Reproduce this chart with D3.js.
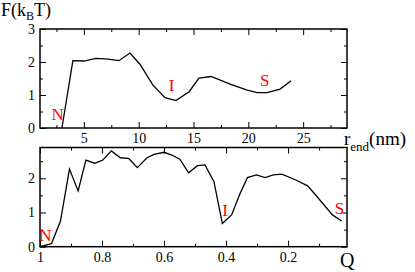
<!DOCTYPE html>
<meta charset="utf-8">
<style>
  body { margin: 0; background: #fff; }
  svg text { font-family: "Liberation Serif", "Times New Roman", Times, serif; }
</style>
<script src="https://d3js.org/d3.v7.min.js"></script>
<div id="chart"></div>
<script>
  // top panel: free energy vs end-to-end distance
  var rEnd = [3, 4, 5, 6.1, 7.2, 8.2, 9.2, 10.1, 11.3, 12.4, 13.4, 14.6, 15.5, 16.6, 18.4, 19.9, 20.8, 21.7, 22.9, 23.9];
  var fTop = [0, 2.04, 2.03, 2.11, 2.09, 2.04, 2.27, 1.94, 1.30, 0.92, 0.83, 1.10, 1.51, 1.56, 1.32, 1.15, 1.07, 1.07, 1.18, 1.43];

  // bottom panel: free energy vs Q
  var qVals = [1, 0.963, 0.934, 0.905, 0.877, 0.852, 0.824, 0.798, 0.77, 0.741, 0.714, 0.686, 0.655, 0.632, 0.6, 0.575, 0.549, 0.521, 0.492, 0.468, 0.439, 0.412, 0.382, 0.356, 0.331, 0.302, 0.274, 0.248, 0.22, 0.175, 0.137, 0.111, 0.057, 0.027];
  var fBot = [0, 0.09, 0.75, 2.27, 1.63, 2.53, 2.44, 2.53, 2.80, 2.60, 2.58, 2.31, 2.60, 2.70, 2.76, 2.68, 2.56, 2.16, 2.37, 2.39, 1.90, 0.68, 0.93, 1.53, 2.02, 2.10, 2.02, 2.10, 2.12, 1.95, 1.78, 1.51, 0.93, 0.75];

  var topTicksX = [5, 10, 15, 20, 25];
  var topMinorX = [2.5, 7.5, 12.5, 17.5, 22.5, 27.5];
  var topTicksY = [0, 1, 2, 3];
  var topMinorY = [0.5, 1.5, 2.5];
  var botTicksX = [1, 0.8, 0.6, 0.4, 0.2];
  var botMinorX = [0.9, 0.7, 0.5, 0.3, 0.1];
  var botTicksY = [0, 1, 2];
  var botMinorY = [0.5, 1.5, 2.5];

  var serif = "'Liberation Serif', 'Times New Roman', serif";
  var width = 415, height = 272;
  var svg = d3.select("#chart").append("svg")
    .attr("width", width)
    .attr("height", height)
    .attr("font-family", serif);

  var left = 40, right = 347;

  function panel(x, y, xt, xm, yt, ym, xfmt) {
    var g = svg.append("g");
    var y0 = y.range()[0], y1 = y.range()[1];

    // bottom axis with labels
    g.append("g").attr("transform", "translate(0," + y0 + ")")
      .call(d3.axisBottom(x).tickValues(xt).tickSize(-6).tickPadding(5).tickFormat(xfmt));
    g.append("g").attr("transform", "translate(0," + y0 + ")")
      .call(d3.axisBottom(x).tickValues(xm).tickSize(-3).tickFormat(""));
    // top mirror
    g.append("g").attr("transform", "translate(0," + y1 + ")")
      .call(d3.axisTop(x).tickValues(xt).tickSize(-6).tickFormat(""));
    g.append("g").attr("transform", "translate(0," + y1 + ")")
      .call(d3.axisTop(x).tickValues(xm).tickSize(-3).tickFormat(""));
    // left axis
    g.append("g").attr("transform", "translate(" + left + ",0)")
      .call(d3.axisLeft(y).tickValues(yt).tickSize(-6).tickPadding(5).tickFormat(d3.format("d")));
    g.append("g").attr("transform", "translate(" + left + ",0)")
      .call(d3.axisLeft(y).tickValues(ym).tickSize(-3).tickFormat(""));
    // right mirror
    g.append("g").attr("transform", "translate(" + right + ",0)")
      .call(d3.axisRight(y).tickValues(yt).tickSize(-6).tickFormat(""));
    g.append("g").attr("transform", "translate(" + right + ",0)")
      .call(d3.axisRight(y).tickValues(ym).tickSize(-3).tickFormat(""));

    g.selectAll(".domain").remove();
    g.selectAll("g").attr("font-family", serif);
    g.selectAll(".tick line").attr("stroke", "#000").attr("stroke-width", 1);
    g.selectAll(".tick text").attr("font-size", 14).attr("fill", "#000");

    g.append("rect")
      .attr("x", left).attr("y", y1)
      .attr("width", right - left).attr("height", y0 - y1)
      .attr("fill", "none").attr("stroke", "#000").attr("stroke-width", 1.5);
    return g;
  }

  // top panel
  var xTop = d3.scaleLinear().domain([1, 29]).range([left, right]);
  var yTop = d3.scaleLinear().domain([0, 3]).range([128, 29]);
  var gTop = panel(xTop, yTop, topTicksX, topMinorX, topTicksY, topMinorY, d3.format("d"));

  var line1 = d3.line()
    .x(function (d, i) { return xTop(rEnd[i]); })
    .y(function (d) { return yTop(d); });
  gTop.append("path").datum(fTop)
    .attr("d", line1).attr("fill", "none")
    .attr("stroke", "#000").attr("stroke-width", 1.3);

  // bottom panel
  var xBot = d3.scaleLinear().domain([1, 0.01]).range([left, right]);
  var yBot = d3.scaleLinear().domain([0, 2.9]).range([246.7, 147.5]);
  var gBot = panel(xBot, yBot, botTicksX, botMinorX, botTicksY, botMinorY, function (d) { return d === 1 ? "1" : d3.format(".1f")(d); });

  var line2 = d3.line()
    .x(function (d, i) { return xBot(qVals[i]); })
    .y(function (d) { return yBot(d); });
  gBot.append("path").datum(fBot)
    .attr("d", line2).attr("fill", "none")
    .attr("stroke", "#000").attr("stroke-width", 1.3);

  // state labels
  var states = [
    { t: "N", x: xTop(2.6), y: 120 },
    { t: "I", x: xTop(13), y: 91 },
    { t: "S", x: xTop(21.5), y: 86 },
    { t: "N", x: 45.5, y: 241 },
    { t: "I", x: 225, y: 216 },
    { t: "S", x: 339.5, y: 214 }
  ];
  svg.selectAll(".state").data(states).enter().append("text")
    .attr("class", "state")
    .attr("x", function (d) { return d.x; })
    .attr("y", function (d) { return d.y; })
    .attr("text-anchor", "middle")
    .attr("font-size", 17)
    .attr("fill", "#ff0000")
    .text(function (d) { return d.t; });

  // axis titles
  var fl = svg.append("text").attr("x", 1).attr("y", 16).attr("font-size", 18);
  fl.append("tspan").text("F(k");
  fl.append("tspan").attr("font-size", 12).attr("dy", 4).text("B");
  fl.append("tspan").attr("dy", -4).text("T)");

  var rl = svg.append("text").attr("x", 344).attr("y", 145).attr("font-size", 19);
  rl.append("tspan").text("r");
  rl.append("tspan").attr("font-size", 13).attr("dy", 6).text("end");
  rl.append("tspan").attr("dy", -6).text("(nm)");

  svg.append("text").attr("x", 340).attr("y", 267).attr("font-size", 20).text("Q");
</script>
